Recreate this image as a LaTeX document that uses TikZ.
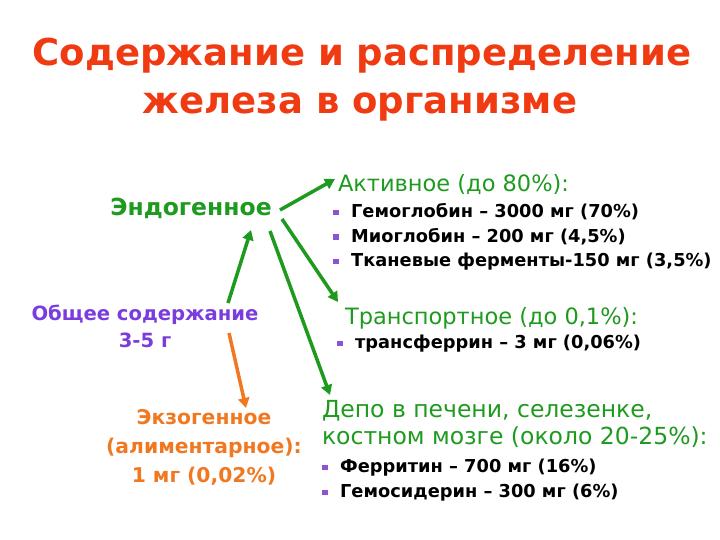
\documentclass[tikz,border=0pt]{standalone}
\usepackage{fontspec}
\setmainfont{DejaVu Sans}
\usetikzlibrary{arrows.meta}
\definecolor{titlered}{HTML}{F03A12}
\definecolor{grn}{HTML}{1E9A1E}
\definecolor{purp}{HTML}{7A3CDC}
\definecolor{orng}{HTML}{F07820}
\definecolor{bul}{HTML}{8A55D0}
\newcommand{\bl}{\textcolor{bul}{\rule[0.15em]{0.32em}{0.32em}}\hspace{0.7em}}
\begin{document}
\begin{tikzpicture}[x=1pt,y=-1pt,
  every node/.style={inner sep=0pt,outer sep=0pt},
  title/.style={font=\fontsize{37}{40}\selectfont\bfseries,text=titlered},
  head/.style={font=\fontsize{22.5}{26}\selectfont,text=grn,anchor=west},
  item/.style={font=\fontsize{17.8}{20}\selectfont\bfseries,anchor=west},
  garrow/.style={draw=grn,line width=3.5pt,-{Triangle[length=10pt,width=11pt]}},
  oarrow/.style={draw=orng,line width=3.5pt,-{Triangle[length=10pt,width=11pt]}}]
\useasboundingbox (0,0) rectangle (720,540);
\node[title] (t1) at (362,56) {Содержание и распределение};
\node[title] (t2) at (360,107) {железа в организме};

\node[font=\fontsize{23.5}{26}\selectfont\bfseries,text=grn] (endo) at (191,208) {Эндогенное};
\node[font=\fontsize{19.6}{27}\selectfont\bfseries,text=purp,align=center] (total) at (145,326) {Общее содержание\\3-5 г};
\node[font=\fontsize{20.3}{29}\selectfont\bfseries,text=orng,align=center] (exo) at (204,447) {Экзогенное\\(алиментарное):\\1 мг (0,02\%)};

\node[head] (act) at (338,185) {Активное (до 80\%):};
\node[item] (i1) at (333,212) {\bl Гемоглобин – 3000 мг (70\%)};
\node[item] (i2) at (333,237) {\bl Миоглобин – 200 мг (4,5\%)};
\node[item] (i3) at (333,262) {\bl Тканевые ферменты-150 мг (3,5\%)};

\node[head] (tr) at (345,318) {Транспортное (до 0,1\%):};
\node[item] (i4) at (337,344) {\bl трансферрин – 3 мг (0,06\%)};

\node[head,font=\fontsize{23.5}{27}\selectfont,align=left,anchor=north west] (depo) at (322,400) {Депо в печени, селезенке,\\костном мозге (около 20-25\%):};
\node[item] (i5) at (322,468) {\bl Ферритин – 700 мг (16\%)};
\node[item] (i6) at (322,493) {\bl Гемосидерин – 300 мг (6\%)};

\coordinate (e1) at (280,210);
\coordinate (e2) at (282,219);
\coordinate (e3) at (270,231);
\coordinate (a1) at (335,179);
\coordinate (a2) at (338,302);
\coordinate (a3) at (330,395);
\coordinate (s1) at (228,303);
\coordinate (s2) at (251,230);
\coordinate (o1) at (229,333);
\coordinate (o2) at (246,408);
\draw[garrow] (e1) -- (a1);
\draw[garrow] (e2) -- (a2);
\draw[garrow] (e3) -- (a3);
\draw[garrow] (s1) -- (s2);
\draw[oarrow] (o1) -- (o2);
\end{tikzpicture}
\end{document}
